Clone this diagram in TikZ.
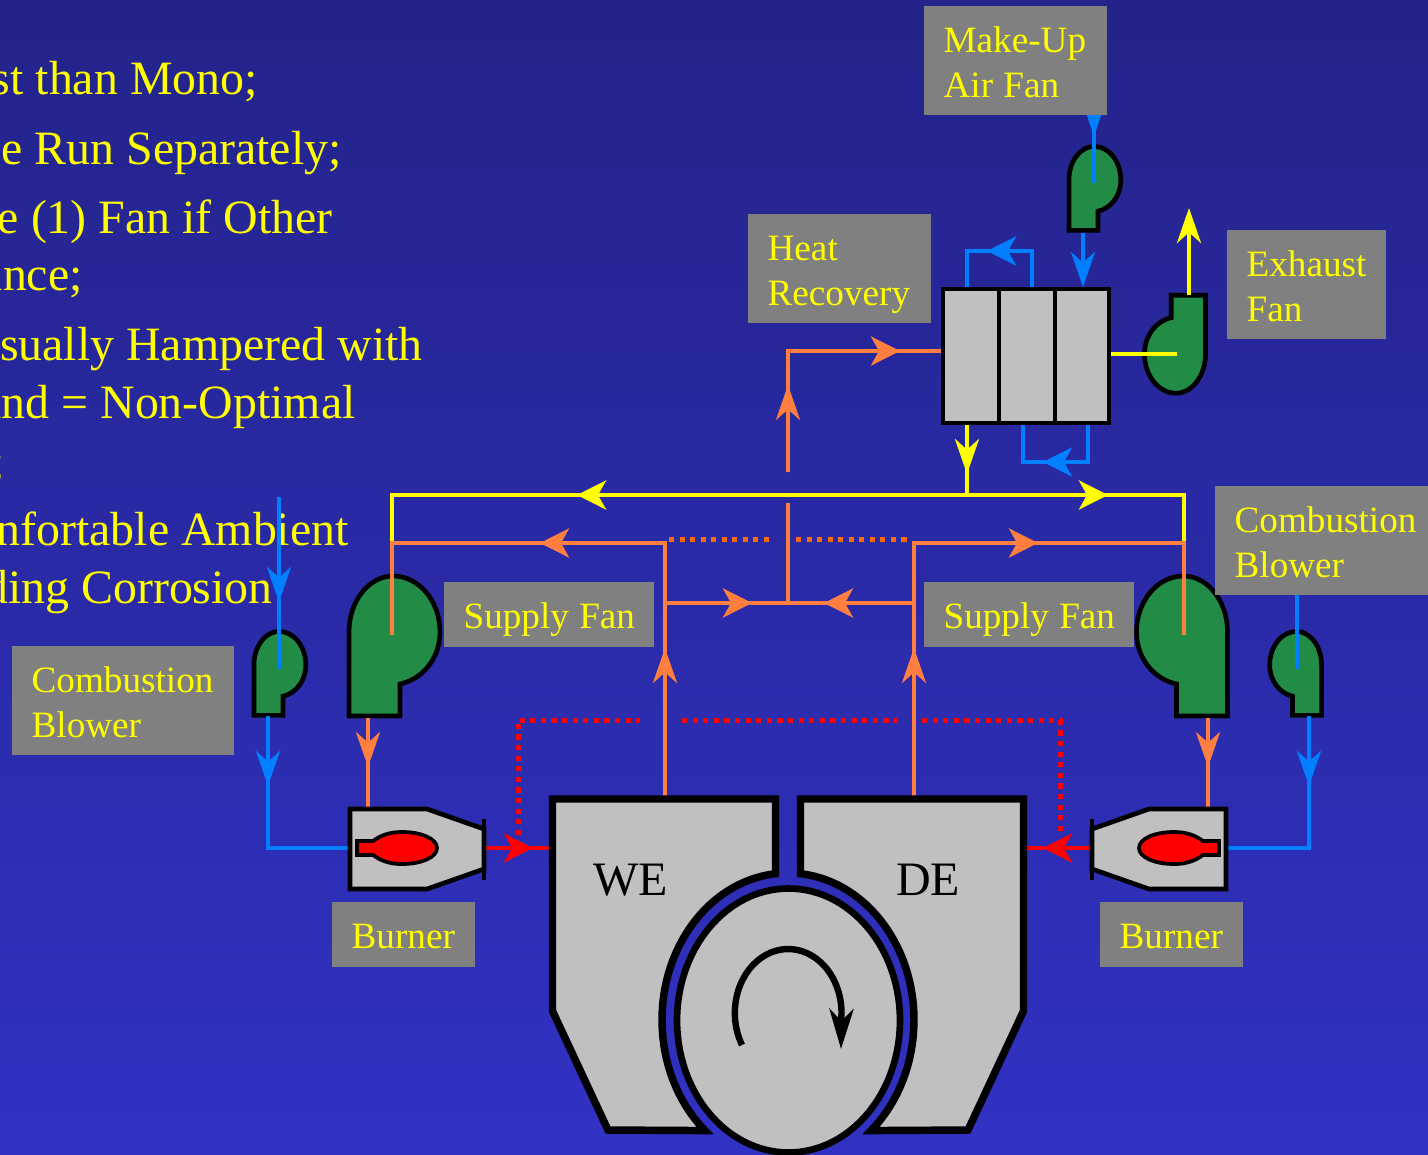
\documentclass[tikz,border=0pt]{standalone}
\usepackage{fontspec}
\setmainfont{Liberation Serif}
\usetikzlibrary{arrows.meta}
\definecolor{bgtop}{HTML}{23238A}
\definecolor{bgbot}{HTML}{3131C4}
\definecolor{labelgray}{HTML}{808080}
\definecolor{metal}{HTML}{C0C0C0}
\definecolor{fangreen}{HTML}{228B45}
\definecolor{flowblue}{HTML}{0080FF}
\definecolor{floworange}{HTML}{FF7F40}
\definecolor{dotorange}{HTML}{FF6A10}
\definecolor{flowred}{HTML}{FF0000}
\definecolor{flowyellow}{HTML}{FFFF00}
\newcommand\firstline{\spaceskip 7.7pt\relax\rule{0pt}{34.5pt}\hspace*{14.5pt}}
\newcommand\nextline{\\\hspace*{14.5pt}}
\newcommand\lastdepth{\rule[-13.5pt]{0pt}{13.5pt}}
\newcommand\onedepth{\rule[-14.25pt]{0pt}{14.25pt}}
\tikzset{
  x=0.75pt,y=-0.75pt,
  vtip/.style={-{Stealth[length=26.25pt,width=18pt,inset=8pt]}},
  htip/.style={-{Stealth[length=21.75pt,width=21.75pt,inset=6pt]}},
  blueflow/.style={draw=flowblue,line width=3.4pt,line join=miter},
  orangeflow/.style={draw=floworange,line width=3.3pt,line join=miter},
  yellowflow/.style={draw=flowyellow,line width=3.4pt,line join=miter},
  redflow/.style={draw=flowred,line width=3.4pt},
  reddots/.style={draw=flowred,line width=3.75pt,dash pattern=on 3.9pt off 4.05pt},
  orangedots/.style={draw=dotorange,line width=3.75pt,dash pattern=on 3.9pt off 4pt},
  bodytext/.style={text=flowyellow,font=\fontsize{35.9pt}{40pt}\selectfont,inner sep=0pt,anchor=base east},
  graylabel/.style={fill=labelgray,text=flowyellow,inner sep=0pt,anchor=north west,align=left,
    font=\fontsize{27.9pt}{33.75pt}\selectfont},
  enginetext/.style={text=black,font=\fontsize{36pt}{40pt}\selectfont,inner sep=0pt,anchor=base west},
  metalbody/.style={fill=metal,draw=black,line join=miter},
  fan/.pic={
    \draw[fill=fangreen,draw=black,line width=3.5pt,line join=miter]
      (-44,84) -- (-44,0) .. controls (-44,-31) and (-24,-56) .. (0,-56)
      .. controls (26,-56) and (47,-31) .. (47,0)
      .. controls (47,26) and (30,47) .. (7,52) -- (7,84) -- cycle;
  },
  burner/.pic={
    \draw[metalbody,line width=3.5pt]
      (-52,-39) -- (25,-39) -- (82,-19) -- (82,21) -- (25,41) -- (-52,41) -- cycle;
    \draw[draw=black,line width=3.2pt] (82,-29) -- (82,32);
    \draw[fill=flowred,draw=black,line width=2.8pt,line join=miter]
      (-45,-7) -- (-29,-7) .. controls (-21,-13) and (-12,-16) .. (0,-16)
      .. controls (20,-16) and (35,-9) .. (35,0)
      .. controls (35,9) and (20,16) .. (0,16)
      .. controls (-12,16) and (-21,13) .. (-29,7) -- (-45,7) -- cycle;
  },
}
\begin{document}
\begin{tikzpicture}
\useasboundingbox (0,0) rectangle (1428,1154);
\clip (0,0) rectangle (1428,1154);
\fill[top color=bgtop,bottom color=bgbot] (0,0) rectangle (1428,1154);

% left column of slide text
\node[bodytext] (t1) at (258,94) {st than Mono;};
\node[bodytext] (t2) at (342,164) {e Run Separately;};
\node[bodytext] (t3) at (333,233) {e (1) Fan if Other};
\node[bodytext] (t4) at (83,290) {ance;};
\node[bodytext] (t5) at (423,360) {sually Hampered with};
\node[bodytext] (t6) at (356,418) {and = Non-Optimal};
\node[bodytext] (t7) at (5,477) {;};
\node[bodytext] (t8) at (349,545) {nfortable Ambient};
\node[bodytext] (t9) at (273,603) {ding Corrosion};

% fans
\coordinate (hubSL) at (393,632);
\coordinate (hubSR) at (1183.5,632);
\coordinate (hubBL) at (279,665);
\coordinate (hubBR) at (1296.5,665);
\coordinate (hubMU) at (1094,180);
\coordinate (hubEX) at (1176,354);
\pic (fanSL) at (hubSL) {fan};
\pic[xscale=-1] (fanSR) at (hubSR) {fan};
\pic[xscale=.57,yscale=.6] (fanBL) at (hubBL) {fan};
\pic[xscale=-.57,yscale=.6] (fanBR) at (hubBR) {fan};
\pic[xscale=.57,yscale=.6] (fanMU) at (hubMU) {fan};
\pic[xscale=.67,yscale=.7,rotate=180] (fanEX) at (hubEX) {fan};

% named points of the flows
\coordinate (yLn) at (392,543);
\coordinate (yLc) at (392,495);
\coordinate (yRc) at (1184,495);
\coordinate (yRn) at (1184,543);
\coordinate (yMid) at (967,495);
\coordinate (yLt) at (577,495);
\coordinate (yRt) at (1108,495);
\coordinate (yHX) at (967,425);
\coordinate (yHXt) at (967,474);
\coordinate (yEXa) at (1111,354);
\coordinate (yEXb) at (1177,354);
\coordinate (yUpa) at (1189,295);
\coordinate (yUpt) at (1189,208);

\coordinate (oHRa) at (788,472);
\coordinate (oHRt) at (788,385);
\coordinate (oHRc) at (788,351);
\coordinate (oHRr) at (900,351);
\coordinate (oHRe) at (941,351);
\coordinate (oCt) at (788,503);
\coordinate (oCb) at (788,603);
\coordinate (oLm) at (665,603);
\coordinate (oRm) at (914,603);
\coordinate (oLmt) at (752,603);
\coordinate (oRmt) at (824,603);
\coordinate (oLa) at (665,796);
\coordinate (oLt) at (665,648);
\coordinate (oLc) at (665,543);
\coordinate (oLh) at (540,543);
\coordinate (oLf) at (392,543);
\coordinate (oLe) at (392,635);
\coordinate (oRa) at (914,796);
\coordinate (oRt) at (914,648);
\coordinate (oRc) at (914,543);
\coordinate (oRh) at (1038,543);
\coordinate (oRf) at (1184,543);
\coordinate (oRe) at (1184,635);
\coordinate (oFLa) at (368,718);
\coordinate (oFLt) at (368,767);
\coordinate (oFLb) at (368,810);
\coordinate (oFRa) at (1208,718);
\coordinate (oFRt) at (1208,767);
\coordinate (oFRb) at (1208,810);
\coordinate (dotA) at (669,539);
\coordinate (dotB) at (770,539);
\coordinate (dotC) at (796,539);
\coordinate (dotD) at (908,539);

\coordinate (bBLin) at (279,497);
\coordinate (bBLt) at (279,602);
\coordinate (bBRin) at (1297,560);
\coordinate (bBRt) at (1297,602);
\coordinate (bMUin) at (1094,90);
\coordinate (bMUt) at (1094,136);
\coordinate (bMUe) at (1094,183);
\coordinate (bBLe) at (279,669);
\coordinate (bBRe) at (1297,669);
\coordinate (bLa) at (268,716);
\coordinate (bLt) at (268,786);
\coordinate (bLc) at (268,848);
\coordinate (bLb) at (350,848);
\coordinate (bRa) at (1309,716);
\coordinate (bRt) at (1309,786);
\coordinate (bRc) at (1309,848);
\coordinate (bRb) at (1226,848);
\coordinate (bMUa) at (1083,233);
\coordinate (bMUf) at (1083,287);
\coordinate (bT1) at (967,287);
\coordinate (bT2) at (967,251);
\coordinate (bT3) at (987,251);
\coordinate (bT4) at (1032,251);
\coordinate (bT5) at (1032,287);
\coordinate (bB1) at (1088,425);
\coordinate (bB2) at (1088,462);
\coordinate (bB3) at (1043,462);
\coordinate (bB4) at (1023,462);
\coordinate (bB5) at (1023,425);

\coordinate (rLa) at (486,848);
\coordinate (rLt) at (533,848);
\coordinate (rLe) at (552,848);
\coordinate (rRa) at (1090,848);
\coordinate (rRt) at (1043,848);
\coordinate (rRe) at (1024,848);
\coordinate (rdA) at (518,835);
\coordinate (rdB) at (518,720);
\coordinate (rdC) at (640,720);
\coordinate (rdD) at (682,720);
\coordinate (rdE) at (897,720);
\coordinate (rdF) at (922,720);
\coordinate (rdG) at (1060,720);
\coordinate (rdH) at (1060,835);

% yellow flows: full line first, arrowheads on top
\draw[yellowflow] (yLn) -- (yLc) -- (yRc) -- (yRn);
\draw[yellowflow,htip] (yMid) -- (yLt);
\draw[yellowflow,htip] (yMid) -- (yRt);
\draw[yellowflow] (yHX) -- (yMid);
\draw[yellowflow,vtip] (yHX) -- (yHXt);
\draw[yellowflow] (yEXa) -- (yEXb);
\draw[yellowflow,vtip] (yUpa) -- (yUpt);

% orange flows
\draw[orangeflow] (oHRa) -- (oHRc) -- (oHRe);
\draw[orangeflow,vtip] (oHRa) -- (oHRt);
\draw[orangeflow,htip] (oHRc) -- (oHRr);
\draw[orangeflow] (oCt) -- (oCb);
\draw[orangeflow] (oLm) -- (oRm);
\draw[orangeflow,htip] (oLm) -- (oLmt);
\draw[orangeflow,htip] (oRm) -- (oRmt);
\draw[orangeflow] (oLa) -- (oLc) -- (oLf) -- (oLe);
\draw[orangeflow,vtip] (oLa) -- (oLt);
\draw[orangeflow,htip] (oLc) -- (oLh);
\draw[orangeflow] (oRa) -- (oRc) -- (oRf) -- (oRe);
\draw[orangeflow,vtip] (oRa) -- (oRt);
\draw[orangeflow,htip] (oRc) -- (oRh);
\draw[orangeflow] (oFLa) -- (oFLb);
\draw[orangeflow,vtip] (oFLa) -- (oFLt);
\draw[orangeflow] (oFRa) -- (oFRb);
\draw[orangeflow,vtip] (oFRa) -- (oFRt);
\draw[orangedots] (dotA) -- (dotB);
\draw[orangedots] (dotC) -- (dotD);

% blue flows
\draw[blueflow] (bBLin) -- (bBLe);
\draw[blueflow,vtip] (bBLin) -- (bBLt);
\draw[blueflow] (bBRin) -- (bBRe);
\draw[blueflow,vtip] (bBRin) -- (bBRt);
\draw[blueflow] (bMUin) -- (bMUe);
\draw[blueflow,vtip] (bMUin) -- (bMUt);
\draw[blueflow] (bLa) -- (bLc) -- (bLb);
\draw[blueflow,vtip] (bLa) -- (bLt);
\draw[blueflow] (bRa) -- (bRc) -- (bRb);
\draw[blueflow,vtip] (bRa) -- (bRt);
\draw[blueflow,vtip] (bMUa) -- (bMUf);
\draw[blueflow] (bT1) -- (bT2) -- (bT4) -- (bT5);
\draw[blueflow,htip] (bT4) -- (bT3);
\draw[blueflow] (bB1) -- (bB2) -- (bB4) -- (bB5);
\draw[blueflow,htip] (bB2) -- (bB3);

% red flows
\draw[redflow] (rLa) -- (rLe);
\draw[redflow,htip] (rLa) -- (rLt);
\draw[redflow] (rRa) -- (rRe);
\draw[redflow,htip] (rRa) -- (rRt);
\draw[reddots] (rdA) -- (rdB) -- (rdC);
\draw[reddots] (rdD) -- (rdE);
\draw[reddots] (rdF) -- (rdG) -- (rdH);

% burners
\coordinate (burnL) at (402,848);
\coordinate (burnR) at (1174,848);
\pic (burnerL) at (burnL) {burner};
\pic[xscale=-1] (burnerR) at (burnR) {burner};

% heat recovery unit
\draw[metalbody,line width=3.6pt] (943,289) rectangle (1109,423);
\draw[draw=black,line width=3.2pt] (999,289) -- (999,423);
\draw[draw=black,line width=3.2pt] (1055,289) -- (1055,423);

% engine
\draw[metalbody,line width=5.6pt]
  (552.5,799) -- (775.5,799) -- (775.5,873.7)
  arc[start angle=95.7,end angle=228.8,x radius=94.5pt,y radius=110.25pt]
  -- (608,1130) -- (552.5,1011) -- cycle;
\draw[metalbody,line width=5.6pt]
  (1023.5,799) -- (800.5,799) -- (800.5,873.7)
  arc[start angle=84.3,end angle=-48.8,x radius=94.5pt,y radius=110.25pt]
  -- (968,1130) -- (1023.5,1011) -- cycle;
\draw[metalbody,line width=5pt] (788.5,1020.5) ellipse[x radius=83.6pt,y radius=99pt];
\coordinate (spinA) at (742,1045);
\coordinate (spinB) at (841,1049);
\draw[draw=black,line width=4.8pt,-{Stealth[length=30pt,width=18pt,inset=9pt]}]
  (spinA) arc[start angle=210,end angle=2,x radius=40pt,y radius=48pt] -- (spinB);
\node[enginetext] (we) at (593,895) {WE};
\node[enginetext] (de) at (896,895) {DE};

% labels
\node[graylabel,text width=137.25pt] (lblMakeUp) at (924,6) {\firstline Make-Up\nextline Air Fan\lastdepth};
\node[graylabel,text width=137.25pt] (lblHeat) at (748,214) {\firstline Heat\nextline Recovery\lastdepth};
\node[graylabel,text width=119.25pt] (lblExhaust) at (1227,230) {\firstline Exhaust\nextline Fan\lastdepth};
\node[graylabel,text width=159.75pt] (lblCombR) at (1215,486) {\firstline Combustion\nextline Blower\lastdepth};
\node[graylabel,text width=166.5pt] (lblCombL) at (12,646) {\firstline Combustion\nextline Blower\lastdepth};
\node[graylabel,text width=157.5pt] (lblSupL) at (444,582) {\firstline Supply Fan\onedepth};
\node[graylabel,text width=157.5pt] (lblSupR) at (924,582) {\firstline Supply Fan\onedepth};
\node[graylabel,text width=107.25pt] (lblBurnL) at (332,902) {\firstline Burner\onedepth};
\node[graylabel,text width=107.25pt] (lblBurnR) at (1100,902) {\firstline Burner\onedepth};
\end{tikzpicture}
\end{document}
